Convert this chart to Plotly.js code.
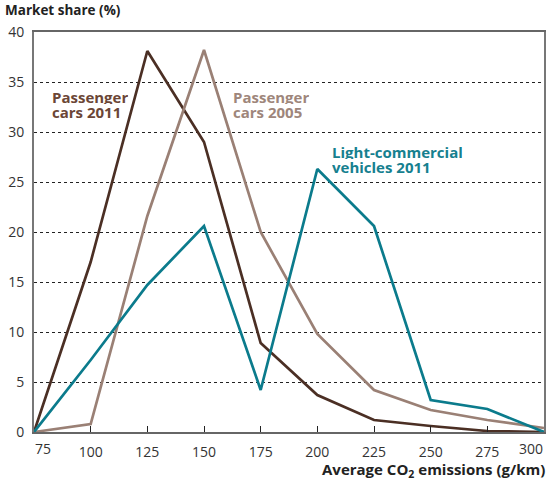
<!DOCTYPE html>
<html><head><meta charset="utf-8">
<script src="https://cdn.plot.ly/plotly-3.0.1.min.js"></script>
<style>html,body{margin:0;padding:0;background:#fff}#c{width:548px;height:481px}</style>
</head><body><div id="c"></div>
<script>
const emissions = [75, 100, 125, 150, 175, 200, 225, 250, 275, 300];
const xTickLabels = ["75", "100", "125", "150", "175", "200", "225", "250", "275", "300"];
const cars2011 = [0, 17, 38.1, 29, 8.9, 3.7, 1.2, 0.6, 0.1, 0];
const cars2005 = [0, 0.8, 21.6, 38.2, 20, 9.8, 4.2, 2.2, 1.2, 0.4];
const lcv2011 = [0, 7.2, 14.7, 20.6, 4.2, 26.3, 20.6, 3.2, 2.3, 0];
const yTicks = [0, 5, 10, 15, 20, 25, 30, 35, 40];
const seriesLabels = [["Passenger", "cars 2011"], ["Passenger", "cars 2005"], ["Light-commercial", "vehicles 2011"]];
const colors = ["#4b2f24", "#9a8075", "#0b7b8c"];
const labelColors = ["#6b4636", "#9e867b", "#16808f"];

const font = "'Open Sans', sans-serif";
const traces = [cars2011, cars2005, lcv2011].map((ys, i) => ({
  x: emissions, y: ys, type: "scatter", mode: "lines",
  line: {color: colors[i], width: 2.7}, hoverinfo: "skip", showlegend: false
}));

const annPos = [[82.5, 34.3], [162.3, 34.3], [206, 28.8]];
const annotations = [];
seriesLabels.forEach((lines, i) => {
  lines.forEach((t, j) => {
    annotations.push({
      x: annPos[i][0], y: annPos[i][1], xref: "x", yref: "y",
      xanchor: "left", yanchor: "top", align: "left", valign: "middle",
      showarrow: false, height: 14, borderpad: 0,
      yshift: -14.5 * j,
      text: "<b>" + t + "</b>", font: {family: font, size: 15, color: labelColors[i]}
    });
  });
});
// end tick labels, aligned to the axis ends as in the reference
const lastIdx = emissions.length - 1;
[[0, "left"], [lastIdx, "right"]].forEach(([idx, anchor]) => {
  annotations.push({
    x: emissions[idx], y: 0, xref: "x", yref: "paper", xanchor: anchor, yanchor: "top",
    yshift: -5, xshift: anchor === "left" ? -1 : 1, showarrow: false, text: xTickLabels[idx],
    font: {family: font, size: 14, color: "#333"}
  });
});
annotations.push({
  x: 0, y: 1, xref: "paper", yref: "paper", xanchor: "left", yanchor: "bottom",
  xshift: -31, yshift: 11, showarrow: false,
  text: "<b>Market share (%)</b>", font: {family: font, size: 13.5, color: "#222"}
});
annotations.push({
  x: 1, y: 0, xref: "paper", yref: "paper", xanchor: "right", yanchor: "middle",
  xshift: 3, yshift: -38, showarrow: false,
  text: "<b>Average CO<sub>2</sub> emissions (g/km)</b>", font: {family: font, size: 15, color: "#222"}
});

const midTickText = xTickLabels.map((t, i) => (i === 0 || i === lastIdx) ? "" : t);

const layout = {
  width: 548, height: 481,
  margin: {l: 34, r: 4, t: 32, b: 49},
  paper_bgcolor: "#fff", plot_bgcolor: "#fff",
  font: {family: font, size: 14, color: "#333"},
  xaxis: {
    range: [75, 300], tickvals: emissions, ticktext: midTickText,
    ticks: "inside", ticklen: 6, tickcolor: "#222",
    showgrid: false, zeroline: false, showline: true, linecolor: "#666", linewidth: 2,
    mirror: true, ticklabelstandoff: 6, fixedrange: true
  },
  yaxis: {
    range: [0, 40], tickvals: yTicks, ticks: "", showgrid: true,
    gridcolor: "#222", griddash: "dot", gridwidth: 1,
    zeroline: false, showline: true, linecolor: "#777", linewidth: 2, mirror: true,
    ticklabelstandoff: 5, fixedrange: true
  },
  annotations: annotations
};
Plotly.newPlot("c", traces, layout, {displayModeBar: false, staticPlot: true});
</script></body></html>
